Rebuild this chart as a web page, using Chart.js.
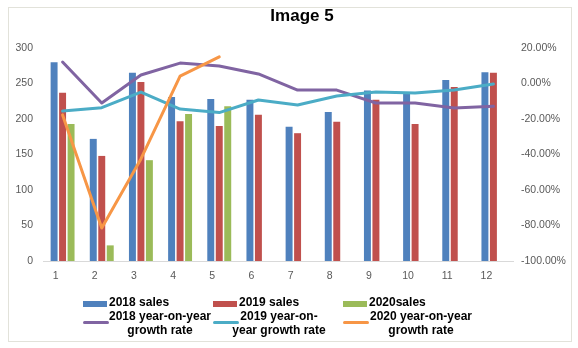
<!DOCTYPE html>
<html>
<head>
<meta charset="utf-8">
<script src="https://cdn.jsdelivr.net/npm/chart.js@4.4.1/dist/chart.umd.min.js"></script>
<style>
  html, body { margin: 0; padding: 0; background: #fff; }
  #wrap { position: relative; width: 578px; height: 348px; overflow: hidden; }
  #frame { position: absolute; left: 8px; top: 7px; width: 562px; height: 333px; border: 1px solid #e2e2da; }
  #title { position: absolute; left: 0; width: 604px; top: 6px; text-align: center;
           font: bold 17px "Liberation Sans", Arial, sans-serif; color: #000; }
  canvas { position: absolute; left: 0; top: 0; }
  .lg { position: absolute; font: bold 12px "Liberation Sans", Arial, sans-serif; color: #000;
        line-height: 13.5px; white-space: pre-line; }
  .sw { position: absolute; }
</style>
</head>
<body>
<div id="wrap">
  <div id="frame"></div>
  <canvas id="canvas" width="578" height="348"></canvas>
  <div id="title"></div>
  <div id="legend"></div>
</div>
<script>
// monthly sales and year-on-year growth
let title = 'Image 5';
let months = ['1', '2', '3', '4', '5', '6', '7', '8', '9', '10', '11', '12'];

let sales2018 = [280, 172, 265, 231, 228, 227, 189, 210, 240, 238, 255, 266];
let sales2019 = [237, 148, 252, 197, 190, 206, 180, 196, 227, 193, 245, 265];
let sales2020 = [193, 22, 142, 207, 218, null, null, null, null, null, null, null];

let growth2018 = [0.121, -0.11, 0.048, 0.115, 0.099, 0.054, -0.037, -0.037, -0.11, -0.11, -0.138, -0.128];
let growth2019 = [-0.155, -0.136, -0.048, -0.144, -0.164, -0.093, -0.121, -0.07, -0.048, -0.054, -0.037, -0.003];
let growth2020 = [-0.177, -0.814, -0.425, 0.042, 0.15, null, null, null, null, null, null, null];

let salesLabels = ['2018 sales', '2019 sales', '2020sales'];
let growthLabels = ['2018 year-on-year\ngrowth rate', '2019 year-on-\nyear growth rate', '2020 year-on-year\ngrowth rate'];

let tickFont = { family: '"Liberation Sans", Arial, sans-serif', size: 10.5 };
let tickColor = '#595959';

function bar(label, data, color) {
  return {
    type: 'bar', label: label, data: data,
    backgroundColor: color, yAxisID: 'y',
    barPercentage: 0.82, categoryPercentage: 0.65, order: 4
  };
}
function line(label, data, color, order) {
  return {
    type: 'line', label: label, data: data,
    borderColor: color, backgroundColor: color, borderWidth: 3,
    pointRadius: 0, tension: 0, yAxisID: 'y1', order: order,
    borderCapStyle: 'round', borderJoinStyle: 'round'
  };
}

let options = {
  data: {
    labels: months,
    datasets: [
      bar(salesLabels[0], sales2018, '#4F81BD'),
      bar(salesLabels[1], sales2019, '#C0504D'),
      bar(salesLabels[2], sales2020, '#9BBB59'),
      line(growthLabels[0], growth2018, '#8064A2', 3),
      line(growthLabels[1], growth2019, '#4BACC6', 2),
      line(growthLabels[2], growth2020, '#F79646', 1)
    ]
  },
  options: {
    responsive: false,
    animation: false,
    layout: { padding: { top: 48, left: 0, right: 0, bottom: 0 } },
    plugins: {
      legend: { display: false },
      tooltip: { enabled: false },
      title: { display: false }
    },
    scales: {
      x: {
        grid: { display: false, drawTicks: false },
        border: { color: '#d9d9d9', width: 1 },
        ticks: { font: tickFont, color: tickColor, padding: 9, labelOffset: -7, maxRotation: 0 },
        afterFit: function(s) { s.height = 87; }
      },
      y: {
        position: 'left', min: 0, max: 300,
        grid: { display: false, drawTicks: false },
        border: { display: false },
        ticks: { stepSize: 50, font: tickFont, color: tickColor, padding: 10 },
        afterFit: function(s) { s.width = 43; }
      },
      y1: {
        position: 'right', min: -1, max: 0.2,
        grid: { display: false, drawTicks: false },
        border: { display: false },
        ticks: {
          stepSize: 0.2, font: tickFont, color: tickColor, padding: 8,
          // round first so the zero tick doesn't come out as -0.00%
          callback: function(v) { return Math.round(v * 100).toFixed(2) + '%'; }
        },
        afterFit: function(s) { s.width = 65; }
      }
    }
  }
};

let chart = new Chart(document.getElementById('canvas'), options);

document.getElementById('title').textContent = title;

// legend: bars on the first row, growth lines on the second
let legend = document.getElementById('legend');
let cols = [83, 213, 343];
let textCentres = [160, 279, 421];
chart.data.datasets.forEach(function(ds, i) {
  let c = i % 3;
  let sw = document.createElement('div');
  sw.className = 'sw';
  let tx = document.createElement('div');
  tx.className = 'lg';
  tx.textContent = ds.label;
  if (ds.type === 'bar') {
    Object.assign(sw.style, { left: cols[c] + 'px', top: '301px', width: '24px', height: '6px', background: ds.backgroundColor });
    Object.assign(tx.style, { left: (cols[c] + 26) + 'px', top: '296px' });
  } else {
    Object.assign(sw.style, { left: cols[c] + 'px', top: '321px', width: '26px', height: '3px', borderRadius: '2px', background: ds.borderColor });
    Object.assign(tx.style, { left: (textCentres[c] - 60) + 'px', width: '120px', top: '310px', textAlign: 'center' });
  }
  legend.appendChild(sw);
  legend.appendChild(tx);
});
</script>
</body>
</html>
